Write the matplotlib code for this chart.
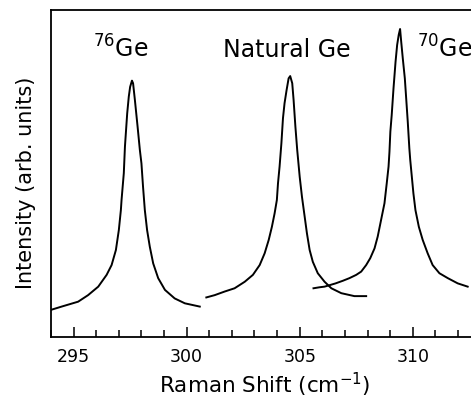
import matplotlib
matplotlib.use("Agg")
import matplotlib.pyplot as plt
from matplotlib.ticker import MultipleLocator

# Raman spectra (x in cm^-1, intensity in arb. units 0-100)
ge76_x = [294.00, 294.47, 295.20, 295.64, 296.09, 296.46, 296.68, 296.87, 297.00,
          297.09, 297.12, 297.22, 297.27, 297.31, 297.37, 297.44, 297.50, 297.58,
          297.63, 297.71, 297.83, 297.93, 298.00, 298.07, 298.15, 298.25, 298.37,
          298.52, 298.74, 299.04, 299.47, 299.92, 300.58]
ge76_y = [8.3, 9.3, 10.8, 12.8, 15.4, 19.0, 22.0, 26.6, 32.7,
          38.8, 41.9, 50.1, 58.2, 62.3, 68.4, 73.5, 76.5, 78.4,
          77.6, 72.5, 64.3, 57.2, 53.1, 46.0, 38.8, 32.7, 27.6,
          22.5, 18.0, 14.4, 11.8, 10.3, 9.3]

natural_x = [300.87, 301.24, 301.68, 302.12, 302.57, 302.93, 303.23, 303.45, 303.63,
             303.77, 303.89, 303.99, 304.04, 304.11, 304.19, 304.26, 304.33, 304.42,
             304.51, 304.58, 304.67, 304.73, 304.81, 304.89, 305.00, 305.10, 305.22,
             305.32, 305.44, 305.58, 305.80, 306.10, 306.40, 306.84, 307.42, 307.94]
natural_y = [12.1, 12.8, 13.9, 14.9, 16.9, 19.0, 22.0, 25.6, 29.7,
             33.7, 37.8, 41.9, 47.0, 52.1, 59.2, 66.9, 71.5, 75.5,
             79.1, 79.8, 77.6, 72.5, 64.3, 57.2, 49.0, 42.9, 36.8,
             31.7, 26.6, 23.0, 19.5, 16.9, 14.9, 13.4, 12.5, 12.5]

ge70_x = [305.61, 305.87, 306.10, 306.59, 306.91, 307.20, 307.50, 307.72, 307.94,
          308.12, 308.31, 308.45, 308.60, 308.75, 308.85, 308.93, 308.97, 309.01,
          309.07, 309.15, 309.24, 309.31, 309.38, 309.44, 309.49, 309.56, 309.65,
          309.71, 309.78, 309.85, 309.89, 309.96, 310.03, 310.12, 310.27, 310.44,
          310.66, 310.88, 311.18, 311.55, 311.99, 312.43]
ge70_y = [14.9, 15.2, 15.4, 16.4, 17.2, 18.0, 19.0, 20.0, 22.0,
          24.1, 27.1, 30.7, 35.8, 40.9, 47.0, 52.1, 56.6, 62.8,
          67.9, 76.1, 84.2, 89.3, 92.4, 94.2, 90.3, 85.2, 79.1,
          73.0, 65.8, 57.7, 54.1, 49.0, 43.9, 38.8, 33.7, 29.7,
          25.6, 22.0, 19.5, 18.0, 16.4, 15.4]

labels = ["$^{76}$Ge", "Natural Ge", "$^{70}$Ge"]
label_x = [295.85, 301.6, 310.2]

fig = plt.figure(figsize=(4.71, 3.99), dpi=100)
# axes run past the right edge of the picture, as in the original crop
ax = fig.add_axes([0.1083, 0.1554, 0.936, 0.8195])

for xs, ys in [(ge76_x, ge76_y), (natural_x, natural_y), (ge70_x, ge70_y)]:
    ax.plot(xs, ys, color="black", lw=1.4, solid_joinstyle="round")

for txt, xpos in zip(labels, label_x):
    ax.text(xpos, 85.5, txt, fontsize=17, ha="left", va="baseline")

ax.set_xlim(294.0, 313.5)
ax.set_ylim(0, 100)
ax.xaxis.set_major_locator(MultipleLocator(5))
ax.xaxis.set_minor_locator(MultipleLocator(1))
ax.set_yticks([])
ax.tick_params(axis="x", which="major", direction="in", length=7, width=1.1,
               labelsize=12.5, pad=8)
ax.tick_params(axis="x", which="minor", direction="in", length=5, width=1.1)
for sp in ax.spines.values():
    sp.set_linewidth(1.3)

ax.set_xlabel("Raman Shift (cm$^{-1}$)", fontsize=15.5)
ax.xaxis.set_label_coords(0.485, -0.103)
ax.set_ylabel("Intensity (arb. units)", fontsize=15)
ax.yaxis.set_label_coords(-0.033, 0.472)

fig.savefig("out.png", dpi=100)
